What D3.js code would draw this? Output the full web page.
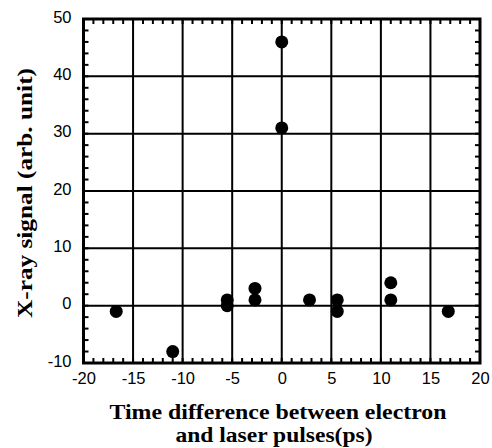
<!DOCTYPE html>
<html><head><meta charset="utf-8">
<script src="https://cdn.jsdelivr.net/npm/d3@7"></script>
<style>body{margin:0;background:#fff}svg{display:block}</style>
</head><body>
<script>
const timeDiff = [-16.7, -11, -5.5, -5.5, -2.7, -2.7, 0, 0, 2.8, 5.6, 5.6, 11, 11, 16.8];
const xraySignal = [-1, -8, 1, 0, 3, 1, 46, 31, 1, 1, -1, 4, 1, -1];
const xTicks = [-20, -15, -10, -5, 0, 5, 10, 15, 20];
const yTicks = [-10, 0, 10, 20, 30, 40, 50];
const xMinor = d3.range(-20, 20.01, 1);
const yMinor = d3.range(-10, 50.01, 2);

const W = 492, H = 448;
const m = {l: 83.5, r: 480, t: 19, b: 363};
const svg = d3.select("body").append("svg").attr("width", W).attr("height", H);
const x = d3.scaleLinear().domain([-20, 20]).range([m.l, m.r]);
const y = d3.scaleLinear().domain([-10, 50]).range([m.b, m.t]);
const fmt = d => String(d);

// grid
svg.append("g").selectAll("line").data(xTicks.slice(1, -1)).join("line")
  .attr("x1", d => x(d)).attr("x2", d => x(d)).attr("y1", m.t).attr("y2", m.b)
  .attr("stroke", "#000").attr("stroke-width", 2);
svg.append("g").selectAll("line").data(yTicks.slice(1, -1)).join("line")
  .attr("y1", d => y(d)).attr("y2", d => y(d)).attr("x1", m.l).attr("x2", m.r)
  .attr("stroke", "#000").attr("stroke-width", 2);

// minor ticks (inside) on all four sides
const tl = 5;
const mt = svg.append("g").attr("stroke", "#000").attr("stroke-width", 2);
mt.selectAll(".xb").data(xMinor).join("line")
  .attr("x1", d => x(d)).attr("x2", d => x(d)).attr("y1", m.b).attr("y2", m.b - tl);
mt.selectAll(".xt").data(xMinor).join("line")
  .attr("x1", d => x(d)).attr("x2", d => x(d)).attr("y1", m.t).attr("y2", m.t + tl);
mt.selectAll(".yl").data(yMinor).join("line")
  .attr("y1", d => y(d)).attr("y2", d => y(d)).attr("x1", m.l).attr("x2", m.l + tl);
mt.selectAll(".yr").data(yMinor).join("line")
  .attr("y1", d => y(d)).attr("y2", d => y(d)).attr("x1", m.r).attr("x2", m.r - tl);

// frame
svg.append("rect").attr("x", m.l).attr("y", m.t).attr("width", m.r - m.l).attr("height", m.b - m.t)
  .attr("fill", "none").attr("stroke", "#000").attr("stroke-width", 3);

// tick labels
const xAxis = svg.append("g").attr("transform", `translate(0,${m.b})`)
  .call(d3.axisBottom(x).tickValues(xTicks).tickSize(0).tickPadding(9).tickFormat(fmt));
xAxis.select(".domain").remove();
xAxis.selectAll("text").attr("font-family", "Liberation Sans, Arial, sans-serif").attr("font-size", 16.5).attr("fill", "#000");

const yAxis = svg.append("g").attr("transform", `translate(${m.l},0)`)
  .call(d3.axisLeft(y).tickValues(yTicks).tickSize(0).tickPadding(12).tickFormat(fmt));
yAxis.select(".domain").remove();
yAxis.selectAll("text").attr("font-family", "Liberation Sans, Arial, sans-serif").attr("font-size", 16.5)
  .attr("fill", "#000").attr("dy", "0.2em");

// points
svg.append("g").selectAll("circle").data(timeDiff.map((t, i) => [t, xraySignal[i]])).join("circle")
  .attr("cx", d => x(d[0])).attr("cy", d => y(d[1])).attr("r", 6.5).attr("fill", "#000");

// titles
const tf = "Liberation Serif, Times New Roman, serif";
const xt1 = svg.append("text").attr("text-anchor", "middle").attr("font-family", tf)
  .attr("font-weight", "bold").attr("font-size", 20)
  .attr("x", 278).attr("y", 419).attr("textLength", 337).attr("lengthAdjust", "spacingAndGlyphs")
  .text("Time difference between electron");
const xt2 = svg.append("text").attr("text-anchor", "middle").attr("font-family", tf)
  .attr("font-weight", "bold").attr("font-size", 20)
  .attr("x", 274).attr("y", 442).attr("textLength", 197).attr("lengthAdjust", "spacingAndGlyphs")
  .text("and laser pulses(ps)");

svg.append("text").attr("transform", "translate(32,193) rotate(-90)").attr("text-anchor", "middle")
  .attr("font-family", tf).attr("font-weight", "bold").attr("font-size", 21)
  .attr("textLength", 250).attr("lengthAdjust", "spacingAndGlyphs")
  .text("X-ray signal (arb. unit)");
</script>
</body></html>
